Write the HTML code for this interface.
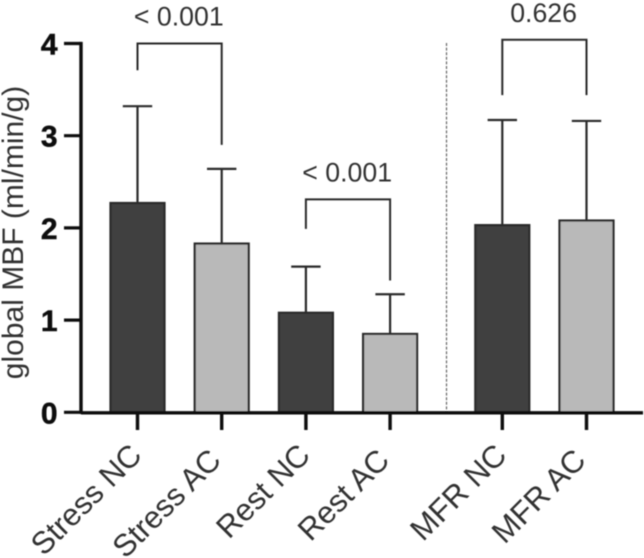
<!DOCTYPE html>
<html>
<head>
<meta charset="utf-8">
<style>
html,body{margin:0;padding:0;background:#fff;width:644px;height:558px;overflow:hidden}
svg{display:block;font-family:"Liberation Sans",sans-serif}
</style>
</head>
<body>
<svg id="chart" xmlns="http://www.w3.org/2000/svg" width="644" height="558" viewBox="0 0 644 558">
<defs><filter id="soft" x="-5%" y="-5%" width="110%" height="110%"><feGaussianBlur stdDeviation="0.45"/></filter></defs>
<g id="root" filter="url(#soft)"></g>
</svg>
<script>
const categories = ['Stress NC', 'Stress AC', 'Rest NC', 'Rest AC', 'MFR NC', 'MFR AC'];
const means = [2.27, 1.83, 1.08, 0.85, 2.03, 2.08];
const errorTops = [3.32, 2.64, 1.58, 1.28, 3.17, 3.16];
const yTicks = [0, 1, 2, 3, 4];
const comparisonFrom = [0, 2, 4];
const comparisonTo = [1, 3, 5];
const comparisonTop = [4.0, 2.31, 4.04];
const comparisonLeftEnd = [3.71, 1.99, 3.44];
const comparisonRightEnd = [2.9, 1.43, 3.44];
const comparisonLabels = ['< 0.001', '< 0.001', '0.626'];

const NS = 'http://www.w3.org/2000/svg';
const root = document.getElementById('root');
const INK = '#2b2b2b';
const y0 = 412.3, yUnit = 92.2;
const x0 = 137.5, xStep = 84.2, groupGap = 28;
const barW = 54;
function yScale(v) { return y0 - v * yUnit; }
function xScale(i) { return x0 + i * xStep + (i > 3 ? groupGap : 0); }
function mk(tag, attrs, parent) {
  const e = document.createElementNS(NS, tag);
  for (const k in attrs) e.setAttribute(k, attrs[k]);
  (parent || root).appendChild(e);
  return e;
}
function ln(x1, y1, x2, y2, w, color, parent) {
  return mk('line', { x1: x1, y1: y1, x2: x2, y2: y2, stroke: color, 'stroke-width': w }, parent);
}
let el;

/* separator */
el = ln(446.5, 43, 446.5, 412, 1.2, '#666', root);
el.setAttribute('stroke-dasharray', '3 1.6');



/* error bars and bars */
categories.forEach(function (c, i) {
  const x = xScale(i);
  const g = mk('g', {});
  
  
  ln(x, yScale(means[i]), x, yScale(errorTops[i]), 2.2, INK, g);
  ln(x - 14.7, yScale(errorTops[i]), x + 14.7, yScale(errorTops[i]), 2.2, INK, g);
  el = mk('rect', {
    x: x - barW / 2, y: yScale(means[i]), width: barW, height: y0 - yScale(means[i]),
    fill: i % 2 === 0 ? '#414141' : '#b9b9b9', stroke: INK, 'stroke-width': 2.2
  });
  
  
});

/* y axis */
el = ln(81, yScale(4) - 1.6, 81, y0 + 1.6, 3.4, '#111', root);


yTicks.forEach(function (t) {
  el = ln(64, yScale(t), 81, yScale(t), 3.2, '#111', root);
  
  
  el = mk('text', { x: 57.5, y: yScale(t) + 11, 'text-anchor': 'end', 'font-size': 30, 'font-weight': 'bold', fill: '#111', stroke: '#111', 'stroke-width': 0.5 });
  el.textContent = t;
  
  
});

/* x axis */
el = ln(81, y0 + 0.5, 643, y0 + 0.5, 3.4, '#111', root);


categories.forEach(function (c, i) {
  const x = xScale(i);
  el = ln(x, y0, x, 430, 3.4, '#111', root);
  
  
  const tx = x + (i % 2 ? 1 : 6), ty = i % 2 ? 462 : 457;
  el = mk('text', {
    x: tx, y: ty, 'text-anchor': 'end', 'font-size': 31, fill: '#333',
    transform: 'rotate(-45 ' + tx + ' ' + ty + ')'
  });
  el.textContent = c;
  
  
});

/* comparison brackets */
comparisonLabels.forEach(function (label, i) {
  const xa = xScale(comparisonFrom[i]), xb = xScale(comparisonTo[i]);
  const yt = yScale(comparisonTop[i]);
  el = mk('polyline', {
    points: xa + ',' + yScale(comparisonLeftEnd[i]) + ' ' + xa + ',' + yt + ' ' + xb + ',' + yt + ' ' + xb + ',' + yScale(comparisonRightEnd[i]),
    fill: 'none', stroke: INK, 'stroke-width': 2
  });
  
  
  el = mk('text', { x: (xa + xb) / 2 - 0.8, y: yt - 18, 'text-anchor': 'middle', 'font-size': 26.7, fill: '#333' });
  el.textContent = label;
  
  
});

/* y axis title */
el = mk('text', {
  x: 23, y: 232.5, 'text-anchor': 'middle', 'font-size': 30, fill: '#333',
  transform: 'rotate(-90 23 232.5)'
});
el.textContent = 'global MBF (ml/min/g)';


</script>
</body>
</html>
